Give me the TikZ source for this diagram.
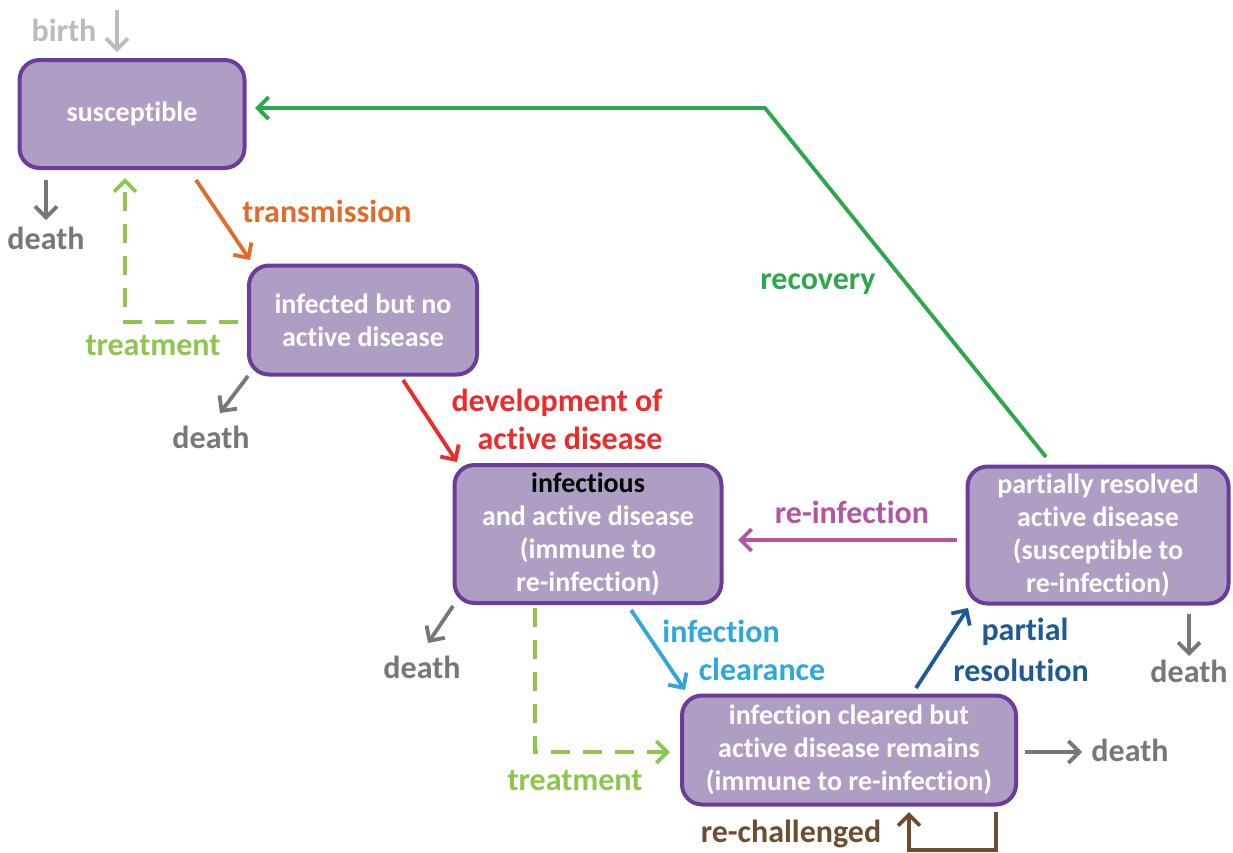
\documentclass[tikz,border=0pt]{standalone}
\usepackage{fontspec}
\setmainfont[Ligatures={NoCommon}]{Carlito}
\usetikzlibrary{arrows.meta}
\definecolor{boxfill}{HTML}{AE9EC4}
\definecolor{boxline}{HTML}{6A3D9A}
\definecolor{cbirth}{HTML}{BBBBBB}
\definecolor{cdeath}{HTML}{777777}
\definecolor{ctrans}{HTML}{E06B2A}
\definecolor{crec}{HTML}{2AA84A}
\definecolor{ctreat}{HTML}{8CC64C}
\definecolor{cdev}{HTML}{EE2A2A}
\definecolor{cclear}{HTML}{2EA6DE}
\definecolor{cpart}{HTML}{205A96}
\definecolor{creinf}{HTML}{B455A2}
\definecolor{cchal}{HTML}{6E4C30}
\tikzset{
  state/.style={draw=boxline, fill=boxfill, line width=4pt, rounded corners=20pt,
    text=white, font=\bfseries\fontsize{28}{33}\selectfont, align=center, inner sep=0pt},
  lab/.style={font=\bfseries\fontsize{32}{38}\selectfont, align=center, inner sep=0pt},
  flow/.style={line width=3.8pt, -{Straight Barb[length=11pt,width=22pt,line width=3.8pt]}},
  dashflow/.style={flow, dash pattern=on 19pt off 13pt}
}
\begin{document}
\begin{tikzpicture}[x=1pt,y=-1pt]
\useasboundingbox (0,0) rectangle (1233,852);
% states
\node[state, minimum width=225pt, minimum height=108pt] (S) at (132,114) {susceptible};
\node[state, minimum width=228pt, minimum height=109pt] (I) at (363,320) {infected but no\\active disease};
\node[state, minimum width=267pt, minimum height=138pt] (A) at (588,534) {\textcolor{black}{infectious}\\and active disease\\(immune to\\re-infection)};
\node[state, minimum width=261pt, minimum height=137pt] (P) at (1098,535) {partially resolved\\active disease\\(susceptible to\\re-infection)};
\node[state, minimum width=334pt, minimum height=109pt] (C) at (849,750) {infection cleared but\\active disease remains\\(immune to re-infection)};
% coordinates
\coordinate (birthtop) at (117,10);
\coordinate (birthend) at (117,52);
\coordinate (sd0) at (46,180);
\coordinate (sd1) at (46,220);
\coordinate (t0) at (196,180);
\coordinate (t1) at (250,260);
\coordinate (r0) at (1046,457);
\coordinate (r1) at (765,108);
\coordinate (r2) at (255,108);
\coordinate (tr0) at (238,322);
\coordinate (tr1) at (125,322);
\coordinate (tr2) at (125,178);
\coordinate (id0) at (248,376);
\coordinate (id1) at (220,413);
\coordinate (d0) at (403,380);
\coordinate (d1) at (457,462);
\coordinate (ad0) at (453,606);
\coordinate (ad1) at (428,643);
\coordinate (tt0) at (535,608);
\coordinate (tt1) at (535,752);
\coordinate (tt2) at (670,752);
\coordinate (c0) at (631,610);
\coordinate (c1) at (685,690);
\coordinate (p0) at (916,688);
\coordinate (p1) at (968,608);
\coordinate (ri0) at (957,540);
\coordinate (ri1) at (738,540);
\coordinate (pd0) at (1189,614);
\coordinate (pd1) at (1189,656);
\coordinate (cd0) at (1025,752);
\coordinate (cd1) at (1082,752);
\coordinate (ch0) at (996,812);
\coordinate (ch1) at (996,850);
\coordinate (ch2) at (909,850);
\coordinate (ch3) at (909,812);
% labels
\node[lab, text=cbirth] (Lbirth) at (64,30) {birth};
\node[lab, text=cdeath] (Ld1) at (46,238) {death};
\node[lab, text=ctrans] (Ltrans) at (327,211) {transmission};
\node[lab, text=crec] (Lrec) at (818,284) {recovery};
\node[lab, text=ctreat] (Ltr1) at (153,346) {treatment};
\node[lab, text=cdeath] (Ld2) at (211,437) {death};
\node[lab, text=cdev, align=right] (Ldev) at (557,419) {development of\\active disease};
\node[lab, text=cdeath] (Ld3) at (422,667) {death};
\node[lab, text=ctreat] (Ltr2) at (575,781) {treatment};
\node[lab, text=cclear] (Lcl1) at (721,631) {infection};
\node[lab, text=cclear] (Lcl2) at (762,669) {clearance};
\node[lab, text=cpart] (Lp1) at (1025,632) {partial};
\node[lab, text=cpart] (Lp2) at (1021,670) {resolution};
\node[lab, text=creinf] (Lri) at (852,512) {re-infection};
\node[lab, text=cdeath] (Ld4) at (1189,671) {death};
\node[lab, text=cdeath] (Ld5) at (1130,750) {death};
\node[lab, text=cchal] (Lch) at (791,834) {re-challenged};
% connectors
\draw[flow, cbirth] (birthtop) -- (birthend);
\draw[flow, cdeath] (sd0) -- (sd1);
\draw[flow, ctrans] (t0) -- (t1);
\draw[flow, crec] (r0) -- (r1) -- (r2);
\draw[dashflow, ctreat] (tr0) -- (tr1) -- (tr2);
\draw[flow, cdeath] (id0) -- (id1);
\draw[flow, cdev] (d0) -- (d1);
\draw[flow, cdeath] (ad0) -- (ad1);
\draw[dashflow, ctreat] (tt0) -- (tt1) -- (tt2);
\draw[flow, cclear] (c0) -- (c1);
\draw[flow, cpart] (p0) -- (p1);
\draw[flow, creinf] (ri0) -- (ri1);
\draw[flow, cdeath] (pd0) -- (pd1);
\draw[flow, cdeath] (cd0) -- (cd1);
\draw[flow, cchal] (ch0) -- (ch1) -- (ch2) -- (ch3);
\end{tikzpicture}
\end{document}
